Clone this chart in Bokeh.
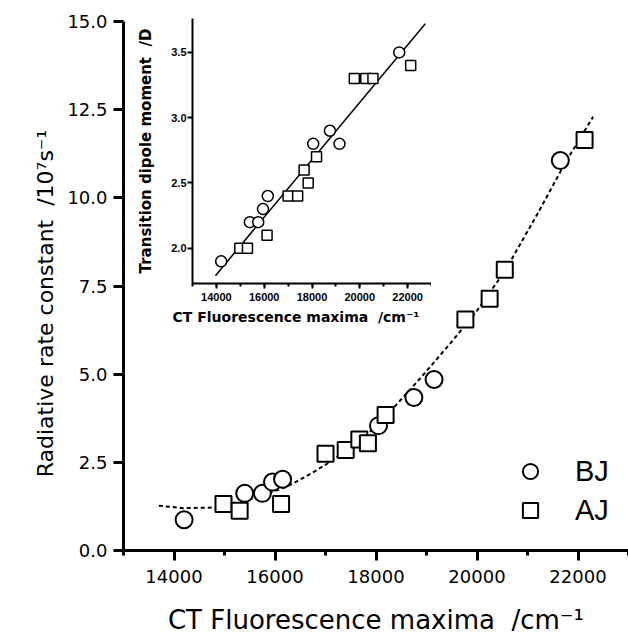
from bokeh.plotting import figure
from bokeh.models import (SingleIntervalTicker, FixedTicker, BasicTickFormatter,
                          NumeralTickFormatter, Legend, LegendItem, Title)
from bokeh.layouts import column
from bokeh.embed import file_html
from bokeh.resources import INLINE

# ---------------- data ----------------
# CT fluorescence maxima (cm^-1)
bj_x = [14200, 15400, 15750, 15950, 16150, 18050, 18750, 19150, 21650]
aj_x = [14980, 15300, 16120, 17000, 17400, 17670, 17840, 18190, 19770, 20250, 20550, 22130]
# radiative rate constant (1e7 s^-1)
bj_k = [0.87, 1.62, 1.62, 1.94, 2.02, 3.54, 4.34, 4.85, 11.06]
aj_k = [1.32, 1.13, 1.32, 2.74, 2.85, 3.15, 3.04, 3.84, 6.55, 7.14, 7.96, 11.64]
# transition dipole moment (D), inset
bj_mu = [1.9, 2.2, 2.2, 2.3, 2.4, 2.8, 2.9, 2.8, 3.5]
aj_mu = [2.0, 2.0, 2.1, 2.4, 2.4, 2.6, 2.5, 2.7, 3.3, 3.3, 3.3, 3.4]
# dashed fit curve in main panel
fit_k_x = [13700, 14200, 14800, 15300, 15800, 16250, 16700, 17100, 17600, 18000,
           18350, 18900, 19500, 20000, 20550, 21200, 21750, 22300]
fit_k_y = [1.27, 1.20, 1.22, 1.36, 1.58, 1.82, 2.17, 2.52, 3.02, 3.52,
           4.05, 4.92, 5.92, 6.80, 7.92, 9.55, 11.0, 12.3]
# straight fit line in inset
fit_mu_x = [13960, 22740]
fit_mu_y = [1.79, 3.72]

main_font = "DejaVu Sans"
NB = "\u00a0"

# ---------------- main panel ----------------
p = figure(width=628, height=637, x_range=(13000, 23000), y_range=(0, 15),
           output_backend="svg", toolbar_location=None,
           min_border_left=123, min_border_right=0, min_border_top=21, min_border_bottom=86)
p.outline_line_color = None
p.xgrid.visible = False
p.ygrid.visible = False
p.background_fill_color = "white"
p.border_fill_color = "white"

xa = p.xaxis[0]
xa.ticker = SingleIntervalTicker(interval=2000, num_minor_ticks=2)
xa.formatter = BasicTickFormatter(use_scientific=False)
xa.axis_label = "CT Fluorescence maxima" + NB + " /cm⁻¹"
ya = p.yaxis[0]
ya.ticker = FixedTicker(ticks=[0, 2.5, 5, 7.5, 10, 12.5, 15])
ya.formatter = NumeralTickFormatter(format="0.0")
# trailing no-break spaces shift the centred label down, as in the reference
ya.axis_label = "Radiative rate constant" + NB + " /10⁷s⁻¹" + NB * 5
for ax in (xa, ya):
    ax.axis_line_width = 3
    ax.major_tick_line_width = 3
    ax.minor_tick_line_width = 3
    ax.major_tick_in = 0
    ax.minor_tick_in = 0
    ax.major_tick_out = 10
    ax.major_label_text_font = main_font
    ax.major_label_text_font_size = "18px"
    ax.axis_label_text_font = main_font
    ax.axis_label_text_font_style = "normal"
    ax.axis_label_text_color = "black"
    ax.major_label_text_color = "black"
xa.minor_tick_out = 5
ya.minor_tick_out = 0
ya.minor_tick_line_color = None
xa.major_label_standoff = 9
xa.axis_label_standoff = 19
xa.axis_label_text_font_size = "26px"
ya.major_label_standoff = 6
ya.axis_label_standoff = 6
ya.axis_label_text_font_size = "22px"

p.line(fit_k_x, fit_k_y, line_color="black", line_width=2, line_dash="4 3")
r_bj = p.scatter(bj_x, bj_k, marker="circle", size=17, fill_color="white",
                 line_color="black", line_width=2)
r_aj = p.scatter(aj_x, aj_k, marker="square", size=16, fill_color="white",
                 line_color="black", line_width=2)

legend = Legend(items=[LegendItem(label="BJ", renderers=[r_bj]),
                       LegendItem(label="AJ", renderers=[r_aj])],
                location=(388, 21), orientation="vertical",
                glyph_width=38, glyph_height=38, label_standoff=26, spacing=1,
                padding=0, margin=0, border_line_color=None, background_fill_alpha=0,
                label_text_font="Liberation Sans", label_text_font_size="29px",
                label_text_color="black")
p.add_layout(legend)

# ---------------- inset ----------------
# (plots in a column share left/right borders, so the inset uses the same ones)
q = figure(width=362, height=333, x_range=(13000, 23000), y_range=(1.73, 3.76),
           output_backend="svg", toolbar_location=None,
           min_border_left=123, min_border_right=0, min_border_top=18, min_border_bottom=50)
q.outline_line_color = None
q.xgrid.visible = False
q.ygrid.visible = False
q.background_fill_alpha = 0
q.border_fill_alpha = 0

qx = q.xaxis[0]
qx.ticker = SingleIntervalTicker(interval=2000, num_minor_ticks=2)
qx.formatter = BasicTickFormatter(use_scientific=False)
qy = q.yaxis[0]
qy.ticker = FixedTicker(ticks=[2.0, 2.5, 3.0, 3.5])
qy.formatter = NumeralTickFormatter(format="0.0")
qy.axis_label = "Transition dipole moment" + NB + " /D"
for ax in (qx, qy):
    ax.axis_line_width = 2
    ax.major_tick_line_width = 2
    ax.minor_tick_line_width = 2
    ax.major_tick_in = 0
    ax.minor_tick_in = 0
    ax.major_tick_out = 5
    ax.major_label_text_font = "Liberation Sans"
    ax.major_label_text_font_style = "bold"
    ax.major_label_text_font_size = "11px"
    ax.axis_label_text_font = main_font
    ax.axis_label_text_font_style = "bold"
    ax.axis_label_text_font_size = "15px"
    ax.axis_label_text_color = "black"
    ax.major_label_text_color = "black"
qx.minor_tick_out = 3
qy.minor_tick_line_color = None
qx.major_label_standoff = 4
qy.major_label_standoff = 1
qy.axis_label_standoff = 13

q.add_layout(Title(text="CT Fluorescence maxima" + NB + " /cm⁻¹", align="left", offset=-20,
                   standoff=7, text_font=main_font, text_font_style="bold",
                   text_font_size="14px", text_color="black"), "below")

q.line(fit_mu_x, fit_mu_y, line_color="black", line_width=1.5)
q.scatter(bj_x, bj_mu, marker="circle", size=11, fill_color="white",
          line_color="black", line_width=1.5)
q.scatter(aj_x, aj_mu, marker="square", size=10, fill_color="white",
          line_color="black", line_width=1.5)

q.styles = {"position": "absolute", "left": "69px", "top": "0px", "z-index": "2"}

layout = column(p, q)
open("out.html", "w").write(file_html(layout, INLINE))
